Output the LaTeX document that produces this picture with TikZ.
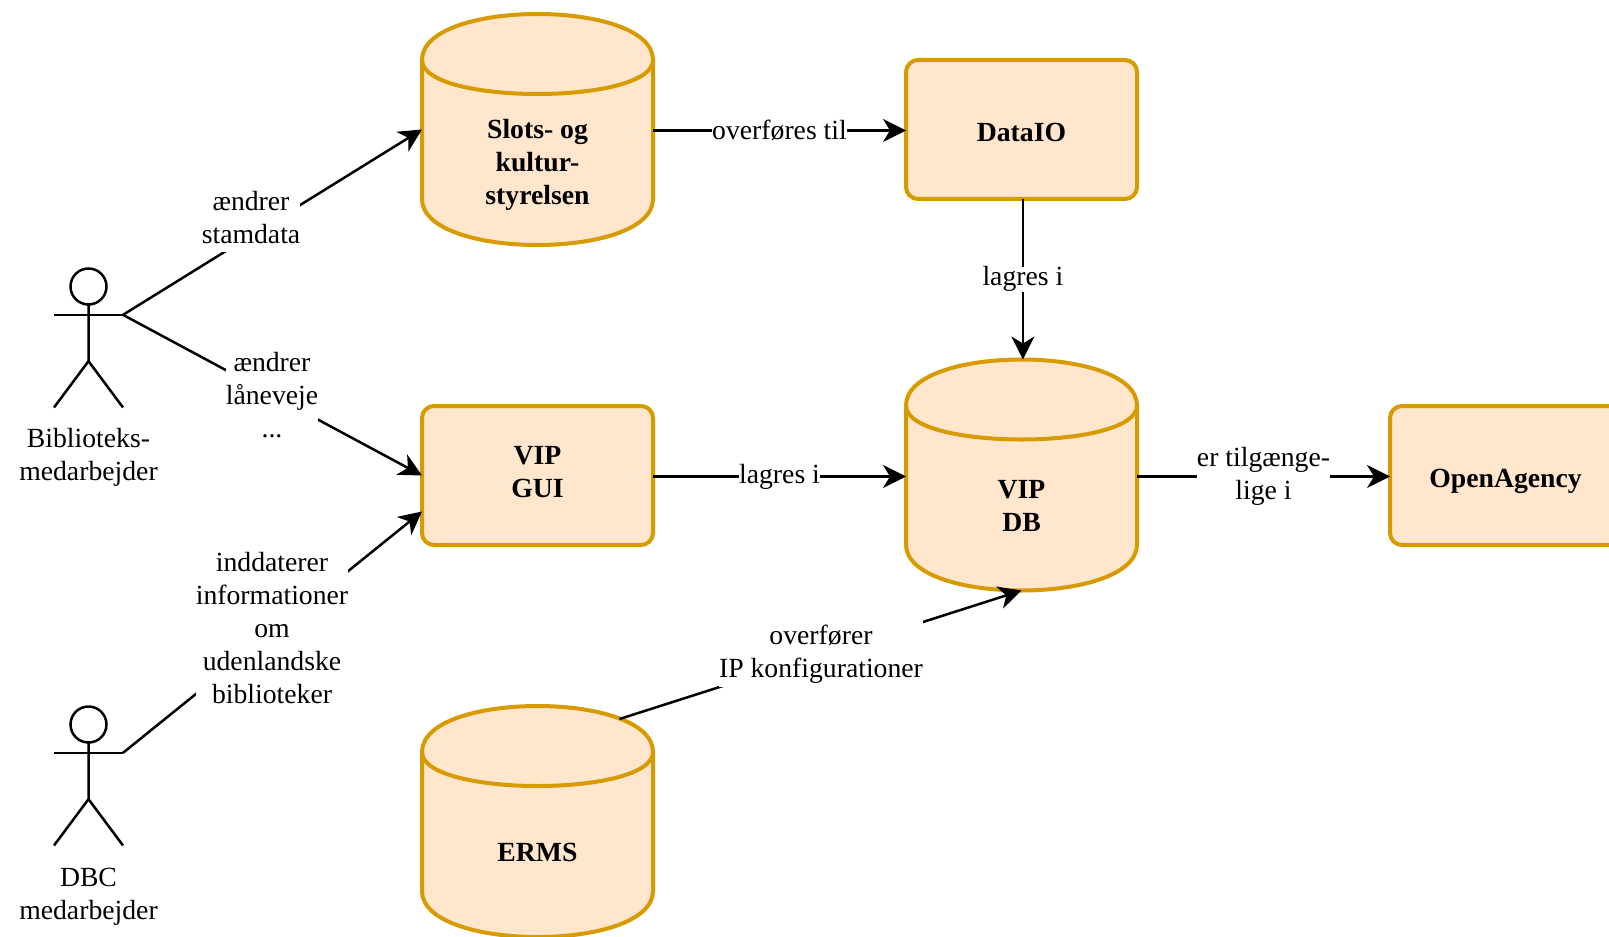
\documentclass[tikz,border=0pt]{standalone}
\usepackage{fontspec}
\setmainfont{Liberation Serif}
\usetikzlibrary{arrows.meta,backgrounds,calc,positioning}
\definecolor{boxfill}{HTML}{FFE6CC}
\definecolor{boxline}{HTML}{D79B00}
\tikzset{%
  font=\fontsize{13.85}{16.5}\selectfont,
  >={Stealth[length=11.5pt,width=11.5pt,inset=3.5pt]},
  db/.style={minimum width=115.5pt,minimum height=115.5pt,inner sep=0pt,outer sep=0pt,anchor=north west},
  boxtext/.style={align=center,inner sep=0pt,font=\fontsize{13.85}{16.5}\selectfont\bfseries},
  box/.style={draw=boxline,fill=boxfill,line width=2pt,rounded corners=6pt,minimum width=115.5pt,minimum height=69.5pt,
    inner sep=0pt,outer sep=0pt,anchor=north west},
  actor/.style={minimum width=34.5pt,minimum height=69.5pt,inner sep=0pt,outer sep=0pt,anchor=north west},
  lbl/.style={fill=white,inner sep=0pt,align=center},
  line/.style={draw,line width=1.25pt,->}
}
\begin{document}
\begin{tikzpicture}[x=1pt,y=1pt]
	\useasboundingbox (0,0) rectangle (804.5,-468);
	
	\node[db] at (211,-7) (slots) {};
	\node[box] at ([xshift=126.5pt,yshift=-23pt] slots.north east) (dataio) {};
	\node[db] at ([yshift=-80.25pt] dataio.south west) (vip db) {};
	\node[box,anchor=north east] at ([xshift=-126.5pt,yshift=-23.25pt] vip db.north west) (vip gui) {};
	\node[box] at ([xshift=126.5pt,yshift=-23.25pt] vip db.north east) (openagency) {};
	\node[db] at ([yshift=-80.5pt] vip gui.south west) (erms) {};
	
	\node[boxtext] at ([yshift=-17.5pt] slots.center) (slots text) {Slots- og\\kultur-\\styrelsen};
	\node[boxtext] at ([yshift=-15.5pt] vip db.center) (vip db text) {VIP\\DB};
	\node[boxtext] at ([yshift=-15.5pt] erms.center) (erms text) {ERMS};
	\node[boxtext] at ([yshift=-1.5pt] dataio.center) (dataio text) {DataIO};
	\node[boxtext] at ([yshift=1.5pt] vip gui.center) (vip gui text) {VIP\\GUI};
	\node[boxtext] at ([yshift=-3pt] openagency.center) (openagency text) {OpenAgency};
	
	\begin{scope}[on background layer]
	\foreach \n in {slots,vip db,erms} {%
		\draw[boxline,fill=boxfill,line width=2pt,line join=round]
			([yshift=-23pt] \n.north west)
			.. controls ([yshift=7.67pt] \n.north west) and ([yshift=7.67pt] \n.north east) .. ([yshift=-23pt] \n.north east)
			-- ([yshift=23pt] \n.south east)
			.. controls ([yshift=-7.67pt] \n.south east) and ([yshift=-7.67pt] \n.south west) .. ([yshift=23pt] \n.south west)
			-- cycle;
		\draw[boxline,line width=2pt]
			([yshift=-23pt] \n.north west)
			.. controls ([yshift=-45.67pt] \n.north west) and ([yshift=-45.67pt] \n.north east) .. ([yshift=-23pt] \n.north east);
	}
	\end{scope}
	
	\node[actor] at (27,-134.25) (bib) {};
	\node[actor] at ([yshift=-219pt] bib.north west) (dbc) {};
	\foreach \n in {bib,dbc} {%
		\draw[line width=1.25pt] ([yshift=-9pt] \n.north) circle (9pt);
		\draw[line width=1.25pt] ([yshift=-18pt] \n.north) -- ($(\n.north)!2/3!(\n.south)$) -- (\n.south west);
		\draw[line width=1.25pt] ($(\n.north)!2/3!(\n.south)$) -- (\n.south east);
		\draw[line width=1.25pt] ($(\n.north west)!1/3!(\n.south west)$) -- ($(\n.north east)!1/3!(\n.south east)$);
	}
	\coordinate (bib arm) at ($(bib.north east)!1/3!(bib.south east)$);
	\coordinate (dbc arm) at ($(dbc.north east)!1/3!(dbc.south east)$);
	\node[below=10pt of bib,align=center,inner sep=0pt] (bib text) {Biblioteks-\\medarbejder};
	\node[below=11pt of dbc,align=center,inner sep=0pt] (dbc text) {DBC\\medarbejder};
	
	\coordinate (erms out) at ([xshift=41pt,yshift=-6.5pt] erms.north);
	\draw[line] (bib arm) -- (slots.west);
	\draw[line] (bib arm) -- (vip gui.west);
	\draw[line] (dbc arm) -- ([yshift=-18pt] vip gui.west);
	\draw[line] (erms out) -- (vip db.south);
	\draw[line] ([yshift=-.5pt] slots.east) -- node[lbl] (overfores) {overføres til} ([yshift=-.5pt] slots.east -| dataio.west);
	\draw[line] ([xshift=.7pt] dataio.south) -- node[lbl] (lagres db) {lagres i} ([xshift=.7pt] vip db.north);
	\draw[line] ([yshift=-.5pt] vip gui.east) -- node[lbl] (lagres gui) {lagres i} ([yshift=-.5pt] vip gui.east -| vip db.west);
	\draw[line] ([yshift=-.5pt] vip gui.east -| vip db.east) -- node[lbl] (tilgaenge) {er tilgænge-\\lige i} ([yshift=-.5pt] openagency.west);
	
	\node[lbl,inner ysep=4pt] at (125.5,-109) (stamdata) {ændrer\\stamdata};
	\node[lbl] at (136,-197.5) (laneveje) {ændrer\\låneveje\\...};
	\node[lbl] at (136,-314) (inddaterer) {inddaterer\\informationer\\om\\udenlandske\\biblioteker};
	\node[lbl,inner ysep=2pt] at (410.5,-327) (konfig) {overfører\\IP konfigurationer};
\end{tikzpicture}
\end{document}
